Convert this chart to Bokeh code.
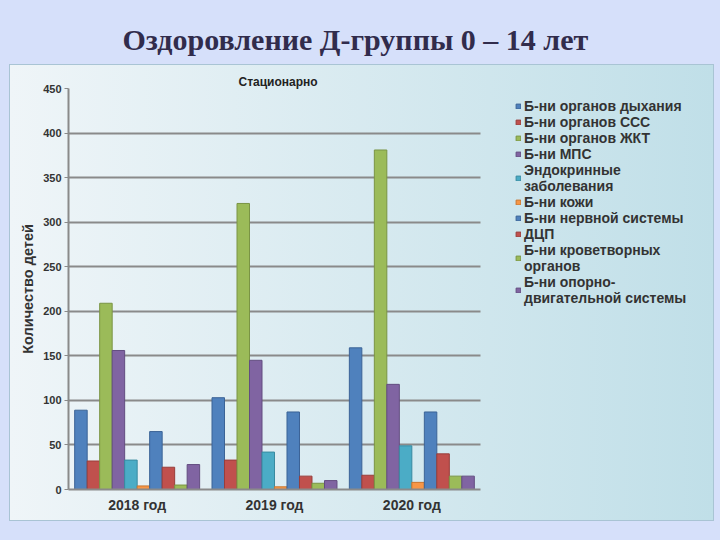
from bokeh.plotting import figure
from bokeh.models import (Range1d, Title, Legend, LegendItem, FixedTicker,
                          ColumnDataSource)
from bokeh.transform import dodge
from bokeh.embed import file_html
from bokeh.resources import INLINE

years = ["2018 год", "2019 год", "2020 год"]
y_ticks = [0, 50, 100, 150, 200, 250, 300, 350, 400, 450]

series_names = [
    "Б-ни органов дыхания",
    "Б-ни органов ССС",
    "Б-ни органов ЖКТ",
    "Б-ни МПС",
    "Эндокринные\nзаболевания",
    "Б-ни кожи",
    "Б-ни нервной системы",
    "ДЦП",
    "Б-ни кроветворных\nорганов",
    "Б-ни опорно-\nдвигательной системы",
]

resp = [89, 103, 159]
cvs = [32, 33, 16]
git = [209, 321, 381]
mps = [156, 145, 118]
endo = [33, 42, 49]
skin = [4, 3, 8]
nerv = [65, 87, 87]
dcp = [25, 15, 40]
blood = [5, 7, 15]
musc = [28, 10, 15]

series_values = [resp, cvs, git, mps, endo, skin, nerv, dcp, blood, musc]

fill_colors = ["#4f81bd", "#c0504d", "#9bbb59", "#8064a2", "#4bacc6",
               "#f79646", "#4f81bd", "#c0504d", "#9bbb59", "#8064a2"]
line_colors = ["#3b6396", "#983d3a", "#7a9444", "#634d80", "#388aa0",
               "#c9762f", "#3b6396", "#983d3a", "#7a9444", "#634d80"]

W, H = 720, 540
FL, FT, FB = 68, 88, 489   # frame left / top / bottom (canvas px)
CHART_R = 480              # where the chart area ends (x)
ncat = len(years)
ymax = y_ticks[-1]

frame_w = W - FL
x_end = ncat * frame_w / (CHART_R - FL)

p = figure(width=W, height=H, x_range=Range1d(0, x_end), y_range=Range1d(0, ymax),
           output_backend="svg", toolbar_location=None,
           min_border_left=FL, min_border_right=0, min_border_top=FT,
           min_border_bottom=H - FB,
           border_fill_alpha=0, background_fill_alpha=0,
           outline_line_color=None)
p.title = None
p.styles = {
    "background": "linear-gradient(to right, #eff5f8, #c0dfe8) 10px 65px / 703px 455px no-repeat, "
                  "linear-gradient(#a9c4d4, #a9c4d4) 9px 64px / 705px 457px no-repeat, "
                  "#d6e0fa"
}

centers = [i + 0.5 for i in range(ncat)]
data = {"x": centers}
for i, v in enumerate(series_values):
    data["s%d" % i] = v
src = ColumnDataSource(data)

bw = 0.091
items = []
for i in range(10):
    off = -5 * bw + bw * (i + 0.5)
    r = p.vbar(x=dodge("x", off), top="s%d" % i, width=bw,
               source=src, fill_color=fill_colors[i], line_color=line_colors[i],
               line_width=1)
    items.append(LegendItem(label=series_names[i], renderers=[r]))

legend = Legend(items=items, location=(447, 183), background_fill_alpha=0,
                border_line_alpha=0, label_text_font="Liberation Sans",
                label_text_font_style="bold", label_text_font_size="14px",
                label_text_color="#333333", glyph_width=6, glyph_height=6,
                label_height=16, spacing=0, padding=0, margin=0,
                label_standoff=3, label_text_line_height=1.16)
p.add_layout(legend)

# axes
p.yaxis.ticker = FixedTicker(ticks=y_ticks)
p.yaxis.bounds = (0, ymax)
p.xaxis.ticker = FixedTicker(ticks=centers)
p.xaxis.major_label_overrides = {c: y for c, y in zip(centers, years)}
p.xaxis.bounds = (0, ncat)
for ax in (p.xaxis, p.yaxis):
    ax.axis_line_color = "#8a8a8a"
    ax.axis_line_width = 2
    ax.major_label_text_font = "Liberation Sans"
    ax.major_label_text_font_style = "bold"
    ax.major_label_text_color = "#333333"
    ax.minor_tick_line_color = None
p.yaxis.major_label_text_font_size = "11px"
p.yaxis.major_tick_line_color = "#8a8a8a"
p.yaxis.major_tick_in = 0
p.yaxis.major_tick_out = 4
p.yaxis.major_label_standoff = 3
p.yaxis.axis_label = "Количество детей"
p.yaxis.axis_label_text_font = "Liberation Sans"
p.yaxis.axis_label_text_font_style = "bold"
p.yaxis.axis_label_text_font_size = "14.5px"
p.yaxis.axis_label_text_color = "#333333"
p.yaxis.axis_label_standoff = 4
p.xaxis.major_tick_line_color = None
p.xaxis.major_tick_in = 0
p.xaxis.major_tick_out = 0
p.xaxis.major_label_text_font_size = "14px"
p.xaxis.major_label_standoff = 7

p.xgrid.grid_line_color = None
p.ygrid.grid_line_color = "#8a8a8a"
p.ygrid.grid_line_width = 2
try:
    p.ygrid[0].cross_bounds = (0, ncat)
except Exception:
    pass

p.add_layout(Title(text="Стационарно", align="left", offset=170, standoff=0,
                   text_font="Liberation Sans", text_font_style="bold",
                   text_font_size="12px", text_color="#222222"), "above")
p.add_layout(Title(text="Оздоровление Д-группы 0 – 14 лет", align="left", offset=54,
                   standoff=34, text_font="Liberation Serif", text_font_style="bold",
                   text_font_size="30px", text_color="#312c4c"), "above")

open("out.html", "w").write(file_html(p, INLINE))
